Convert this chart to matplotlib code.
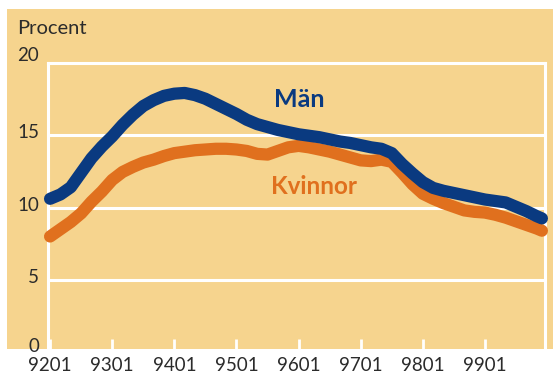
import matplotlib.pyplot as plt
from matplotlib.patches import Rectangle

# Arbetslöshet i procent, varannan månad 1992-1999
periods = ["9201", "9203", "9205", "9207", "9209", "9211",
           "9301", "9303", "9305", "9307", "9309", "9311",
           "9401", "9403", "9405", "9407", "9409", "9411",
           "9501", "9503", "9505", "9507", "9509", "9511",
           "9601", "9603", "9605", "9607", "9609", "9611",
           "9701", "9703", "9705", "9707", "9709", "9711",
           "9801", "9803", "9805", "9807", "9809", "9811",
           "9901", "9903", "9905", "9907", "9909", "9911",
           "9912"]
man = [10.6, 10.9, 11.4, 12.4, 13.4, 14.2,
       14.9, 15.7, 16.4, 17.0, 17.4, 17.7,
       17.85, 17.9, 17.75, 17.5, 17.15, 16.8,
       16.45, 16.05, 15.75, 15.55, 15.35, 15.2,
       15.05, 14.95, 14.85, 14.7, 14.55, 14.45,
       14.3, 14.15, 14.05, 13.75, 13.0, 12.35,
       11.75, 11.35, 11.15, 11.0, 10.85, 10.7,
       10.55, 10.45, 10.35, 10.05, 9.75, 9.4,
       9.25]
kvinnor = [8.0, 8.5, 9.0, 9.6, 10.4, 11.1,
           11.9, 12.45, 12.8, 13.1, 13.3, 13.55,
           13.75, 13.85, 13.95, 14.0, 14.05, 14.05,
           14.0, 13.9, 13.7, 13.65, 13.9, 14.15,
           14.25, 14.15, 14.0, 13.85, 13.65, 13.45,
           13.25, 13.2, 13.3, 13.15, 12.4, 11.6,
           10.95, 10.6, 10.3, 10.05, 9.8, 9.7,
           9.65, 9.5, 9.3, 9.05, 8.8, 8.55,
           8.4]
tick_labels = ["9201", "9301", "9401", "9501", "9601", "9701", "9801", "9901"]
y_labels = [0, 5, 10, 15, 20]


def month_index(code):
    return (int(code[:2]) - 92) * 12 + int(code[2:]) - 1


x = [month_index(p) for p in periods]

BG = "#F6D48E"
BLUE = "#0A3A80"
ORANGE = "#E0701E"
TEXT = "#2B2B2B"
FONT = "Lato"

W, H = 553, 376
fig = plt.figure(figsize=(W / 100, H / 100), dpi=100)
fig.patch.set_facecolor("white")
fig.patches.append(Rectangle((7 / W, (H - 349) / H), 1 - 7 / W, (349 - 9) / H,
                             transform=fig.transFigure, facecolor=BG,
                             edgecolor="none", zorder=-10))

# plot area in pixels: left 48, right 545, top 62.5, bottom 349
ax = fig.add_axes([48 / W, (H - 349) / H, (545 - 48) / W, (349 - 62.5) / H])
ax.set_facecolor("none")
ymin = 20 - (349 - 62.5) / 14.5
ax.set_ylim(ymin, 20)
ax.set_xlim(-0.4, 95.6)

for v in [5, 10, 15]:
    ax.axhline(v, color="white", lw=2.2, zorder=1)
for s in ["left", "top", "right"]:
    ax.spines[s].set_color("white")
    ax.spines[s].set_linewidth(2.2)
ax.spines["bottom"].set_visible(False)

ax.plot(x, kvinnor, color=ORANGE, lw=8.8, solid_capstyle="round",
        solid_joinstyle="round", clip_on=False, zorder=3)
ax.plot(x, man, color=BLUE, lw=8.8, solid_capstyle="round",
        solid_joinstyle="round", clip_on=False, zorder=4)

ax.set_yticks([])
ax.set_xticks([month_index(t) for t in tick_labels])
ax.set_xticklabels(tick_labels, fontsize=13.5, color=TEXT, family=FONT)
ax.tick_params(axis="x", direction="in", length=7, width=2, color="white",
               pad=6)

ytr = ax.get_yaxis_transform()
for v in y_labels:
    ax.text(-0.018, max(v, ymin) + 0.15 + (0.35 if v == 20 else 0), str(v),
            transform=ytr, ha="right", va="center", fontsize=13.5, color=TEXT,
            family=FONT, clip_on=False)

fig.text(17 / W, 1 - 28 / H, "Procent", ha="left", va="center", fontsize=14.5,
         color=TEXT, family=FONT)

ax.text(43.2, 16.95, "Män", color=BLUE, fontsize=18,
        fontweight="bold", family=FONT, ha="left", va="baseline")
ax.text(42.7, 10.9, "Kvinnor", color=ORANGE, fontsize=17.5,
        fontweight="bold", family=FONT, ha="left", va="baseline")

fig.savefig("out.png", dpi=100)
